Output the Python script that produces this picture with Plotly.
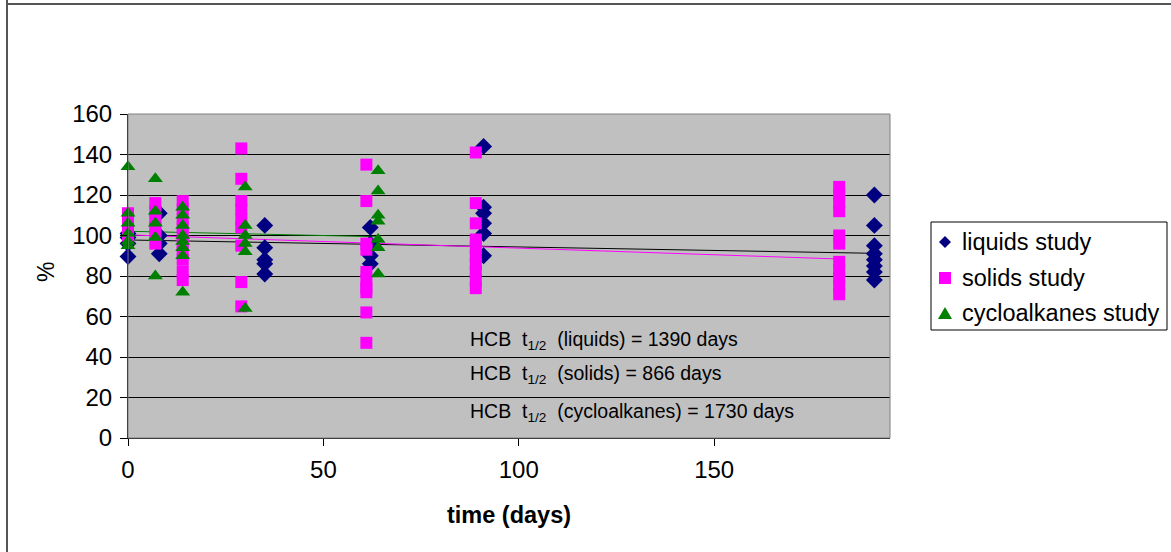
import plotly.graph_objects as go

# ---- data ----
liq_days = [0, 0, 0, 0, 8, 8, 8, 8, 35, 35, 35, 35, 35, 62, 62, 62, 62,
            91, 91, 91, 91, 91, 91, 191, 191, 191, 191, 191, 191, 191, 191]
liq_vals = [89.6, 96, 99, 101, 111, 100, 96, 91, 105, 94, 88, 86, 81, 104, 96, 90, 86,
            144, 114, 111, 106, 101, 90, 120, 105, 95, 91, 88, 85, 82, 78]

sol_days = [0, 0, 0, 0, 7, 7, 7, 7, 7, 7,
            14, 14, 14, 14, 14, 14, 14, 14, 14, 14,
            29, 29, 29, 29, 29, 29, 29, 29, 29,
            61, 61, 61, 61, 61, 61, 61, 61, 61, 61,
            89, 89, 89, 89, 89, 89, 89, 89, 89, 89,
            182, 182, 182, 182, 182, 182, 182, 182, 182, 182, 182]
sol_vals = [111, 107, 103, 100, 116, 112, 108, 104, 100, 96,
            117, 113, 108, 104, 100, 96, 92, 88, 82, 78,
            143, 128, 117, 113, 108, 104, 95, 77, 65,
            135, 117, 96, 93, 82, 78, 74, 72, 62, 47,
            141, 116, 106, 98, 94, 90, 86, 82, 78, 74,
            124, 120, 116, 112, 100, 96, 87, 83, 79, 75, 71]

cyc_days = [0, 0, 0, 0, 0, 0, 7, 7, 7, 7, 7,
            14, 14, 14, 14, 14, 14, 14, 14,
            30, 30, 30, 30, 30, 30,
            64, 64, 64, 64, 64, 64, 64]
cyc_vals = [134, 111, 106, 101, 97, 95, 128, 112, 106, 99, 80,
            114, 110, 105, 100, 97, 94, 90, 72,
            124, 105, 100, 96, 92, 64,
            132, 122, 110, 107, 98, 94, 81]

# trend lines (start / end)
liq_trend_x = [0, 191]
liq_trend_y = [97.8, 91.2]
sol_trend_x = [0, 182]
sol_trend_y = [100.3, 88.4]
cyc_trend_x = [0, 64]
cyc_trend_y = [102.1, 99.4]

y_ticks = [0, 20, 40, 60, 80, 100, 120, 140, 160]
x_ticks = [0, 50, 100, 150]

series_names = ["liquids study", "solids study", "cycloalkanes study"]

notes = [
    "HCB&nbsp;&nbsp;t<sub>1/2</sub>&nbsp;&nbsp;(liquids) = 1390 days",
    "HCB&nbsp;&nbsp;t<sub>1/2</sub>&nbsp;&nbsp;(solids) = 866 days",
    "HCB&nbsp;&nbsp;t<sub>1/2</sub>&nbsp;&nbsp;(cycloalkanes) = 1730 days",
]

NAVY = "#000080"
MAG = "#FF00FF"
GRN = "#008000"
FONT = "Liberation Sans, Arial, sans-serif"

fig = go.Figure()

fig.add_trace(go.Scatter(x=liq_trend_x, y=liq_trend_y, mode="lines",
                         line=dict(color="#000000", width=1), showlegend=False, hoverinfo="skip"))
fig.add_trace(go.Scatter(x=cyc_trend_x, y=cyc_trend_y, mode="lines",
                         line=dict(color=GRN, width=1), showlegend=False, hoverinfo="skip"))
fig.add_trace(go.Scatter(x=sol_trend_x, y=sol_trend_y, mode="lines",
                         line=dict(color=MAG, width=1), showlegend=False, hoverinfo="skip"))

fig.add_trace(go.Scatter(x=liq_days, y=liq_vals, mode="markers", name=series_names[0],
                         cliponaxis=False, showlegend=False,
                         marker=dict(symbol="diamond", size=13, color=NAVY, line=dict(width=0))))
fig.add_trace(go.Scatter(x=sol_days, y=sol_vals, mode="markers", name=series_names[1],
                         cliponaxis=False, showlegend=False,
                         marker=dict(symbol="square", size=12, color=MAG, line=dict(width=0))))
fig.add_trace(go.Scatter(x=cyc_days, y=cyc_vals, mode="markers", name=series_names[2],
                         cliponaxis=False, showlegend=False,
                         marker=dict(symbol="triangle-up", size=13, color=GRN, line=dict(width=0))))

# pixel -> paper helpers for layout placement
L, R, T, B = 128, 890, 114, 438
W, H = 1171, 552
def px(x):
    return (x - L) / (R - L)
def py(y):
    return (B - y) / (B - T)

annotations = []
for txt, yy in zip(notes, [340, 374, 412]):
    annotations.append(dict(text=txt, x=px(468), y=py(yy), xref="paper", yref="paper",
                            xanchor="left", yanchor="middle", showarrow=False,
                            font=dict(family=FONT, size=19.5, color="#000000")))
annotations.append(dict(text="%", x=px(46), y=py(272), xref="paper", yref="paper",
                        textangle=-90, showarrow=False, xanchor="center", yanchor="middle",
                        font=dict(family=FONT, size=23, color="#000000")))
annotations.append(dict(text="<b>time (days)</b>", x=px(509), y=py(515), xref="paper", yref="paper",
                        showarrow=False, xanchor="center", yanchor="middle",
                        font=dict(family=FONT, size=23.5, color="#000000")))

shapes = [
    dict(type="rect", xref="paper", yref="paper", x0=0, x1=1, y0=0, y1=1,
         line=dict(color="#808080", width=1), layer="above"),
    dict(type="line", xref="paper", yref="paper", x0=px(7), x1=px(7), y0=py(0), y1=py(H),
         line=dict(color="#555555", width=2)),
    dict(type="line", xref="paper", yref="paper", x0=px(6), x1=px(W), y0=py(4), y1=py(4),
         line=dict(color="#555555", width=2)),
    # legend box
    dict(type="rect", xref="paper", yref="paper", x0=px(931), x1=px(1167), y0=py(222), y1=py(330),
         line=dict(color="#000000", width=1), fillcolor="#FFFFFF"),
]

# legend entries (manual, to match the reference box exactly)
leg_rows = [242, 278, 313]
mx = 945
def path(pts):
    return "M " + " L ".join(f"{px(a)},{py(b)}" for a, b in pts) + " Z"
s = 6
shapes.append(dict(type="path", xref="paper", yref="paper", line=dict(width=0), fillcolor=NAVY,
                   path=path([(mx, leg_rows[0] - s), (mx + s, leg_rows[0]), (mx, leg_rows[0] + s), (mx - s, leg_rows[0])])))
shapes.append(dict(type="path", xref="paper", yref="paper", line=dict(width=0), fillcolor=MAG,
                   path=path([(mx - 6, leg_rows[1] - 6), (mx + 6, leg_rows[1] - 6), (mx + 6, leg_rows[1] + 6), (mx - 6, leg_rows[1] + 6)])))
shapes.append(dict(type="path", xref="paper", yref="paper", line=dict(width=0), fillcolor=GRN,
                   path=path([(mx, leg_rows[2] - 6), (mx + 7, leg_rows[2] + 6), (mx - 7, leg_rows[2] + 6)])))
for name, yy in zip(series_names, leg_rows):
    annotations.append(dict(text=name, x=px(960), y=py(yy), xref="paper", yref="paper",
                            xanchor="left", yanchor="middle", showarrow=False,
                            font=dict(family=FONT, size=23.5, color="#000000")))

fig.update_layout(
    width=W, height=H,
    margin=dict(l=L, r=W - R, t=T, b=H - B),
    paper_bgcolor="#FFFFFF",
    plot_bgcolor="#C0C0C0",
    font=dict(family=FONT, color="#000000"),
    showlegend=False,
    xaxis=dict(range=[0, 195], tickvals=x_ticks, ticks="outside", ticklen=7,
               tickcolor="#000000", showgrid=False, zeroline=False,
               showline=True, linecolor="#000000", linewidth=1,
               ticklabelstandoff=3,
               tickfont=dict(family=FONT, size=24, color="#000000")),
    yaxis=dict(range=[0, 160], tickvals=y_ticks, ticks="outside", ticklen=7,
               tickcolor="#000000", showgrid=True, gridcolor="#000000", gridwidth=1,
               zeroline=False, showline=True, linecolor="#000000", linewidth=1,
               ticklabelstandoff=3,
               tickfont=dict(family=FONT, size=24, color="#000000")),
    annotations=annotations,
    shapes=shapes,
)

fig.write_html("out.html", config={"displayModeBar": False},
               post_script="document.body.style.margin='0px';")
